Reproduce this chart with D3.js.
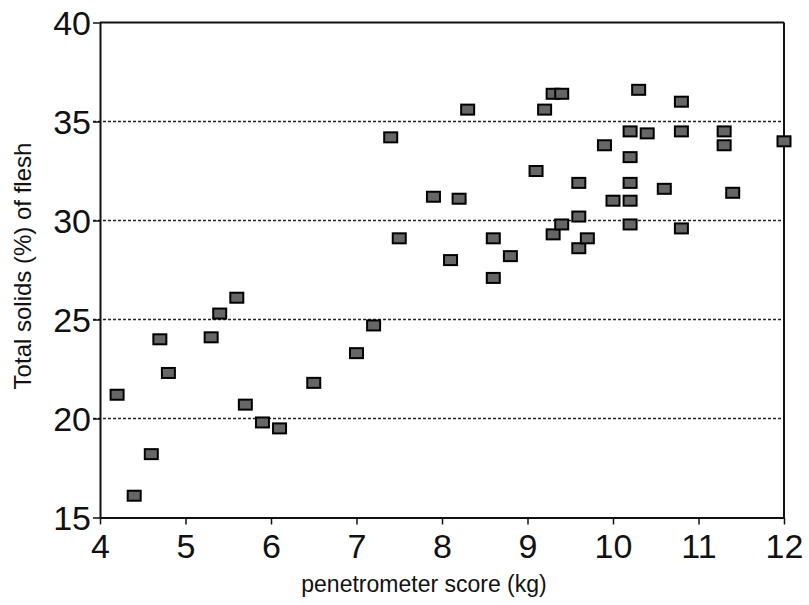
<!DOCTYPE html>
<html>
<head>
<meta charset="utf-8">
<script src="https://cdn.jsdelivr.net/npm/d3@7"></script>
<style>
  body { margin: 0; background: #fff; }
  text { font-family: "Liberation Sans", Arial, sans-serif; fill: #111; }
</style>
</head>
<body>
<div id="chart"></div>
<script>
// Dimensions of visualisation.
var width = 809;
var height = 605;
var m = { left: 100, right: 25, top: 22.5, bottom: 87.5 };

// Data: penetrometer score (kg) vs total solids (%).
var penetrometer = [4.2, 4.4, 4.6, 4.7, 4.8, 5.3, 5.4, 5.6, 5.7, 5.9,
  6.1, 6.5, 7.0, 7.2, 7.4, 7.5, 7.9, 8.1, 8.2, 8.3,
  8.6, 8.6, 8.8, 9.1, 9.2, 9.3, 9.4, 9.3, 9.4, 9.6,
  9.6, 9.6, 9.7, 9.9, 10.0, 10.2, 10.2, 10.2, 10.2, 10.2,
  10.3, 10.4, 10.6, 10.8, 10.8, 10.8, 11.3, 11.3, 11.4, 12.0];
var solids = [21.2, 16.1, 18.2, 24.0, 22.3, 24.1, 25.3, 26.1, 20.7, 19.8,
  19.5, 21.8, 23.3, 24.7, 34.2, 29.1, 31.2, 28.0, 31.1, 35.6,
  29.1, 27.1, 28.2, 32.5, 35.6, 36.4, 36.4, 29.3, 29.8, 31.9,
  30.2, 28.6, 29.1, 33.8, 31.0, 34.5, 33.2, 31.9, 31.0, 29.8,
  36.6, 34.4, 31.6, 36.0, 34.5, 29.6, 34.5, 33.8, 31.4, 34.0];

// Tick values.
var xTicks = [4, 5, 6, 7, 8, 9, 10, 11, 12];
var yTicks = [15, 20, 25, 30, 35, 40];
var gridLines = [20, 25, 30, 35];

var x = d3.scaleLinear().domain([4, 12]).range([m.left, width - m.right]);
var y = d3.scaleLinear().domain([15, 40]).range([height - m.bottom, m.top]);

var svg = d3.select("#chart").append("svg")
    .attr("width", width)
    .attr("height", height);

// Dotted horizontal gridlines (they run out through the y ticks).
svg.append("g")
  .selectAll("line")
  .data(gridLines)
  .enter().append("line")
    .attr("x1", m.left - 7)
    .attr("x2", width - m.right)
    .attr("y1", function(d) { return y(d); })
    .attr("y2", function(d) { return y(d); })
    .style("stroke", "#222")
    .style("stroke-width", 1.5)
    .style("stroke-dasharray", "3,2");

// Frame: top and right borders.
svg.append("line")
    .attr("x1", m.left).attr("x2", width - m.right)
    .attr("y1", y(40)).attr("y2", y(40))
    .style("stroke", "#111").style("stroke-width", 2);
svg.append("line")
    .attr("x1", width - m.right).attr("x2", width - m.right)
    .attr("y1", y(40)).attr("y2", y(15))
    .style("stroke", "#111").style("stroke-width", 2);

// Axes.
var xAxis = svg.append("g")
    .attr("transform", "translate(0," + y(15) + ")")
    .call(d3.axisBottom(x).tickValues(xTicks).tickSize(7).tickSizeOuter(0).tickPadding(8));
var yAxis = svg.append("g")
    .attr("transform", "translate(" + m.left + ",0)")
    .call(d3.axisLeft(y).tickValues(yTicks).tickSize(7).tickSizeOuter(0).tickPadding(2));

[xAxis, yAxis].forEach(function(a) {
  a.select(".domain").style("stroke", "#111").style("stroke-width", 2);
  a.selectAll(".tick line").style("stroke", "#111").style("stroke-width", 1.5);
  a.selectAll("text")
    .style("font-family", "'Liberation Sans', Arial, sans-serif")
    .style("font-size", "34px")
    .style("fill", "#111");
});
xAxis.selectAll("text").attr("dy", "0.75em");
yAxis.selectAll("text").attr("dy", "0.36em");

// Square markers.
var sw = 13, sh = 10;
svg.append("g")
  .selectAll("rect")
  .data(penetrometer)
  .enter().append("rect")
    .attr("x", function(d) { return x(d) - sw / 2; })
    .attr("y", function(d, i) { return y(solids[i]) - sh / 2; })
    .attr("width", sw)
    .attr("height", sh)
    .style("fill", "#666")
    .style("stroke", "#000")
    .style("stroke-width", 2);

// Axis titles.
svg.append("text")
    .attr("x", 424)
    .attr("y", 592)
    .attr("text-anchor", "middle")
    .style("font-size", "23px")
    .text("penetrometer score (kg)");

svg.append("text")
    .attr("transform", "translate(31," + 266 + ") rotate(-90)")
    .attr("text-anchor", "middle")
    .style("font-size", "24px")
    .text("Total solids (%) of flesh");
</script>
</body>
</html>
